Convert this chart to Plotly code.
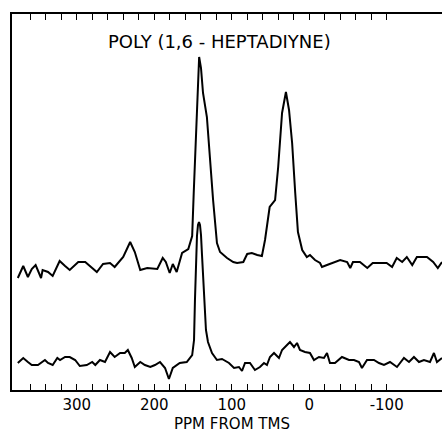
import plotly.graph_objects as go

# ---- data ----
upper_ppm = [376, 369, 363, 358, 353, 346, 344, 337, 331, 322,
             315, 309, 298, 289, 274, 266, 257, 251, 240, 231,
             225, 218, 209, 196, 189, 185, 180, 176, 171, 164,
             156, 151, 149, 146, 143.5, 142, 139.6, 137, 132, 128,
             124, 119, 115, 106, 98, 93, 85, 80, 74, 67,
             61, 57, 51, 44, 40, 35, 30, 26, 22, 18,
             14.5, 9, 3, -1, -7.5, -14, -16.5, -23, -31, -40,
             -49, -53, -56.5, -65.5, -75, -82, -91, -100, -107, -113,
             -120, -126, -133, -139, -152, -160, -166, -171.4]
upper_int = [112, 124, 113, 121, 125, 112, 120, 118, 114, 129,
             124, 120, 128, 128, 118, 126, 127, 123, 133, 148,
             138, 120, 122, 121, 132, 128, 117, 126, 118, 137,
             141, 154, 197, 263, 313, 333, 322, 297, 273, 230,
             190, 147, 138, 132, 128, 127, 128, 136, 137, 135,
             134, 150, 183, 190, 223, 277, 298, 280, 247, 197,
             158, 140, 133, 135, 130, 127, 123, 125, 127, 130,
             128, 122, 128, 128, 122, 127, 127, 127, 123, 132,
             128, 133, 125, 133, 133, 128, 122, 128]

lower_ppm = [376, 369, 363, 358, 350, 345, 341, 337, 331, 325,
             321.5, 315, 309, 302, 296, 287, 280, 276, 270, 263.5,
             257, 251, 244, 238, 234, 229, 225, 218, 212, 205,
             199, 192.5, 186, 181, 176, 167, 158, 151, 148.6, 147.4,
             146.1, 144.8, 143.5, 142.2, 140.9, 139.6, 138.3, 137, 135.7, 133.2,
             130.6, 125.4, 119, 112.5, 103.5, 97, 90.6, 86.7, 82.8, 76.4,
             70, 63.5, 58.3, 54.5, 50.6, 45.4, 39, 35, 28.6, 24.8,
             19.6, 15.7, 11.9, 5.4, -1, -6.2, -12.6, -19.1, -23, -26.8,
             -33.3, -42.3, -51.4, -57.8, -64.3, -68.1, -74.6, -83.6, -90.1, -96.5,
             -104.3, -113.3, -122.3, -128.8, -135.2, -141.7, -148.1, -155.9, -161, -164.9,
             -171.4]
lower_int = [27, 32, 28, 25, 25, 28, 30, 27, 25, 32,
             30, 33, 33, 30, 24, 25, 28, 25, 30, 28,
             38, 33, 37, 37, 40, 32, 23, 28, 25, 23,
             25, 28, 22, 11, 22, 27, 28, 35, 50, 90,
             128, 154, 165, 168, 165, 155, 135, 117, 90, 60,
             48, 37, 30, 31, 27, 22, 23, 19, 27, 27,
             20, 23, 27, 25, 33, 37, 32, 40, 45, 48,
             43, 47, 40, 38, 37, 30, 33, 32, 37, 27,
             27, 33, 30, 30, 28, 22, 30, 30, 27, 25,
             28, 23, 32, 28, 33, 28, 30, 28, 37, 28,
             32]

tick_vals = [360, 340, 320, 300, 280, 260, 240, 220, 200, 180, 160, 140,
             120, 100, 80, 60, 40, 20, 0, -20, -40, -60, -80, -100]
tick_text = ["", "", "", "300", "", "", "", "", "200", "", "", "",
             "", "100", "", "", "", "", "0", "", "", "", "", "-100"]

title_text = "POLY (1,6 - HEPTADIYNE)"
axis_title = "PPM FROM TMS"

assert len(upper_ppm) == len(upper_int)
assert len(lower_ppm) == len(lower_int)

fig = go.Figure()
for xs, ys in ((upper_ppm, upper_int), (lower_ppm, lower_int)):
    fig.add_trace(go.Scatter(x=xs, y=ys, mode="lines",
                             line=dict(color="black", width=2),
                             showlegend=False, hoverinfo="skip"))

fig.update_layout(
    width=442, height=433,
    margin=dict(l=12, r=0, t=14, b=43),
    paper_bgcolor="white", plot_bgcolor="white",
    font=dict(family="DejaVu Sans", color="black"),
    xaxis=dict(range=[383.5, -171.4], showgrid=False, zeroline=False,
               showline=True, linecolor="black", linewidth=1.5,
               mirror="ticks", ticks="inside", ticklen=6, tickwidth=1.2,
               tickcolor="black", tickmode="array",
               tickvals=tick_vals, ticktext=tick_text,
               tickfont=dict(size=15, family="DejaVu Sans", color="black")),
    yaxis=dict(range=[0, 376], showgrid=False, zeroline=False,
               showline=True, linecolor="black", linewidth=1.5,
               showticklabels=False, ticks=""),
    annotations=[
        dict(text=title_text, xref="paper", yref="paper",
             x=0.4837, y=0.928, xanchor="center", yanchor="middle",
             showarrow=False, font=dict(size=18, family="DejaVu Sans", color="black")),
        dict(text=axis_title, xref="paper", yref="paper",
             x=0.512, y=-0.0904, xanchor="center", yanchor="middle",
             showarrow=False, font=dict(size=15, family="DejaVu Sans", color="black")),
    ],
)

fig.write_html("out.html")
